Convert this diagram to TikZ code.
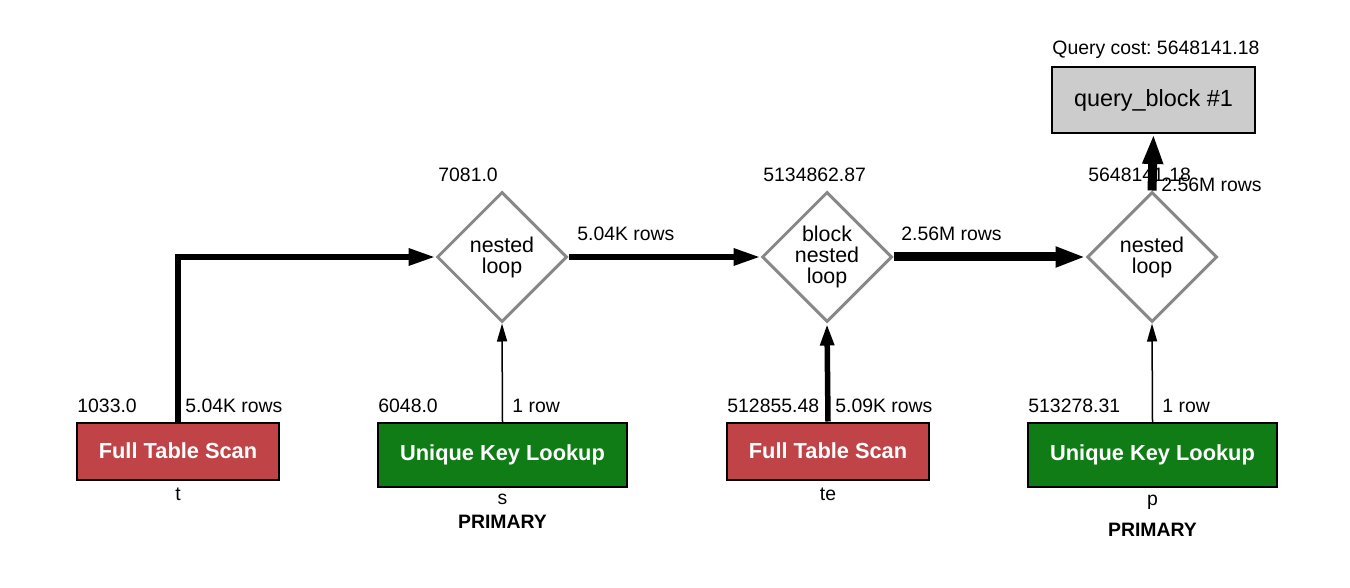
\documentclass[tikz,border=0pt]{standalone}
\usepackage{fontspec}
\setmainfont{Liberation Sans}
\usetikzlibrary{arrows.meta,shapes.geometric}
\definecolor{scanred}{RGB}{191,67,71}
\definecolor{lookupgreen}{RGB}{16,124,22}
\definecolor{blockgray}{RGB}{204,204,204}
\definecolor{opgray}{RGB}{136,136,136}
\begin{document}
\begin{tikzpicture}[x=0.5pt, y=-0.5pt,
        join_op/.style={diamond, draw=opgray, line width=1.5pt, fill=white, minimum width=65pt, minimum height=65pt, inner sep=0pt, align=center, font=\fontsize{10.7}{10.5}\selectfont},
        scan_box/.style={rectangle, draw=black, line width=1pt, fill=scanred, text=white, font=\fontsize{10.9}{12}\selectfont\bfseries, minimum width=101pt, minimum height=28.5pt, inner sep=0pt},
        lookup_box/.style={scan_box, fill=lookupgreen, minimum width=124.5pt, minimum height=32pt},
        block_box/.style={rectangle, draw=black, line width=1pt, fill=blockgray, font=\fontsize{11.7}{13}\selectfont, minimum width=101.5pt, minimum height=33pt, inner sep=0pt},
        lbl/.style={inner sep=0pt, font=\fontsize{9.7}{11}\selectfont},
        key_lbl/.style={lbl, font=\fontsize{9.7}{11}\selectfont\bfseries},
        edge_thin/.style={-{Triangle[length=9pt, width=5pt]}, line width=0.75pt},
        edge_mid/.style={-{Triangle[length=11pt, width=6.5pt]}, line width=2.75pt},
        edge_thick/.style={-{Triangle[length=13.5pt, width=8pt]}, line width=3pt},
        edge_heavy/.style={-{Triangle[length=15pt, width=9.5pt]}, line width=4.5pt}
    ]
        \useasboundingbox (0,0) rectangle (1350,588);

        \node[join_op] (nl1) at (502, 257) {nested\\loop};
        \node[join_op] (bnl) at (827, 257) {block\\nested\\loop};
        \node[join_op] (nl2) at (1152, 257) {nested\\loop};
        \node[block_box] (qb) at (1153.5, 100) {query\_block \#1};

        \node[scan_box] (scan_t) at (178, 451) {Full Table Scan};
        \node[lookup_box] (look_s) at (502.5, 455) {Unique Key Lookup};
        \node[scan_box] (scan_te) at (828, 451) {Full Table Scan};
        \node[lookup_box] (look_p) at (1152.5, 455) {Unique Key Lookup};

        \draw[edge_thick] (scan_t.north) |- (nl1.west);
        \draw[edge_thin] (look_s.north) -- (nl1.south);
        \draw[edge_thick] (nl1.east) -- (bnl.west);
        \draw[edge_mid] (scan_te.north) -- (bnl.south);
        \draw[edge_heavy] (bnl.east) -- (nl2.west);
        \draw[edge_thin] (look_p.north) -- (nl2.south);
        \draw[edge_heavy] (nl2.north) -- (qb.south);

        % costs and row counts
        \node[lbl, anchor=base west] (cost_qb) at (1052, 55) {Query cost:\ 5648141.18};
        \node[lbl, anchor=base west] (cost_nl1) at (438, 182) {7081.0};
        \node[lbl, anchor=base west] (cost_bnl) at (763, 182) {5134862.87};
        \node[lbl, anchor=base west] (cost_nl2) at (1088, 182) {5648141.18};
        \node[lbl, anchor=base west] (rows_nl2) at (1161, 192) {2.56M rows};
        \node[lbl, anchor=base west] (rows_nl1) at (577, 241) {5.04K rows};
        \node[lbl, anchor=base west] (rows_bnl) at (901, 241) {2.56M rows};

        \node[lbl, anchor=base west] (cost_t) at (77, 412) {1033.0};
        \node[lbl, anchor=base west] (rows_t) at (185, 412) {5.04K rows};
        \node[lbl, anchor=base west] (cost_s) at (378, 412) {6048.0};
        \node[lbl, anchor=base west] (rows_s) at (512, 412) {1 row};
        \node[lbl, anchor=base west] (cost_te) at (727, 412) {512855.48};
        \node[lbl, anchor=base west] (rows_te) at (835, 412) {5.09K rows};
        \node[lbl, anchor=base west] (cost_p) at (1028, 412) {513278.31};
        \node[lbl, anchor=base west] (rows_p) at (1162, 412) {1 row};

        % table names and keys
        \node[lbl, anchor=base] (tbl_t) at (178, 500) {t};
        \node[lbl, anchor=base] (tbl_s) at (502.5, 504) {s};
        \node[key_lbl, anchor=base] (key_s) at (502.5, 528) {PRIMARY};
        \node[lbl, anchor=base] (tbl_te) at (828, 500) {te};
        \node[lbl, anchor=base] (tbl_p) at (1152.5, 505) {p};
        \node[key_lbl, anchor=base] (key_p) at (1152.5, 536) {PRIMARY};
    \end{tikzpicture}
\end{document}
